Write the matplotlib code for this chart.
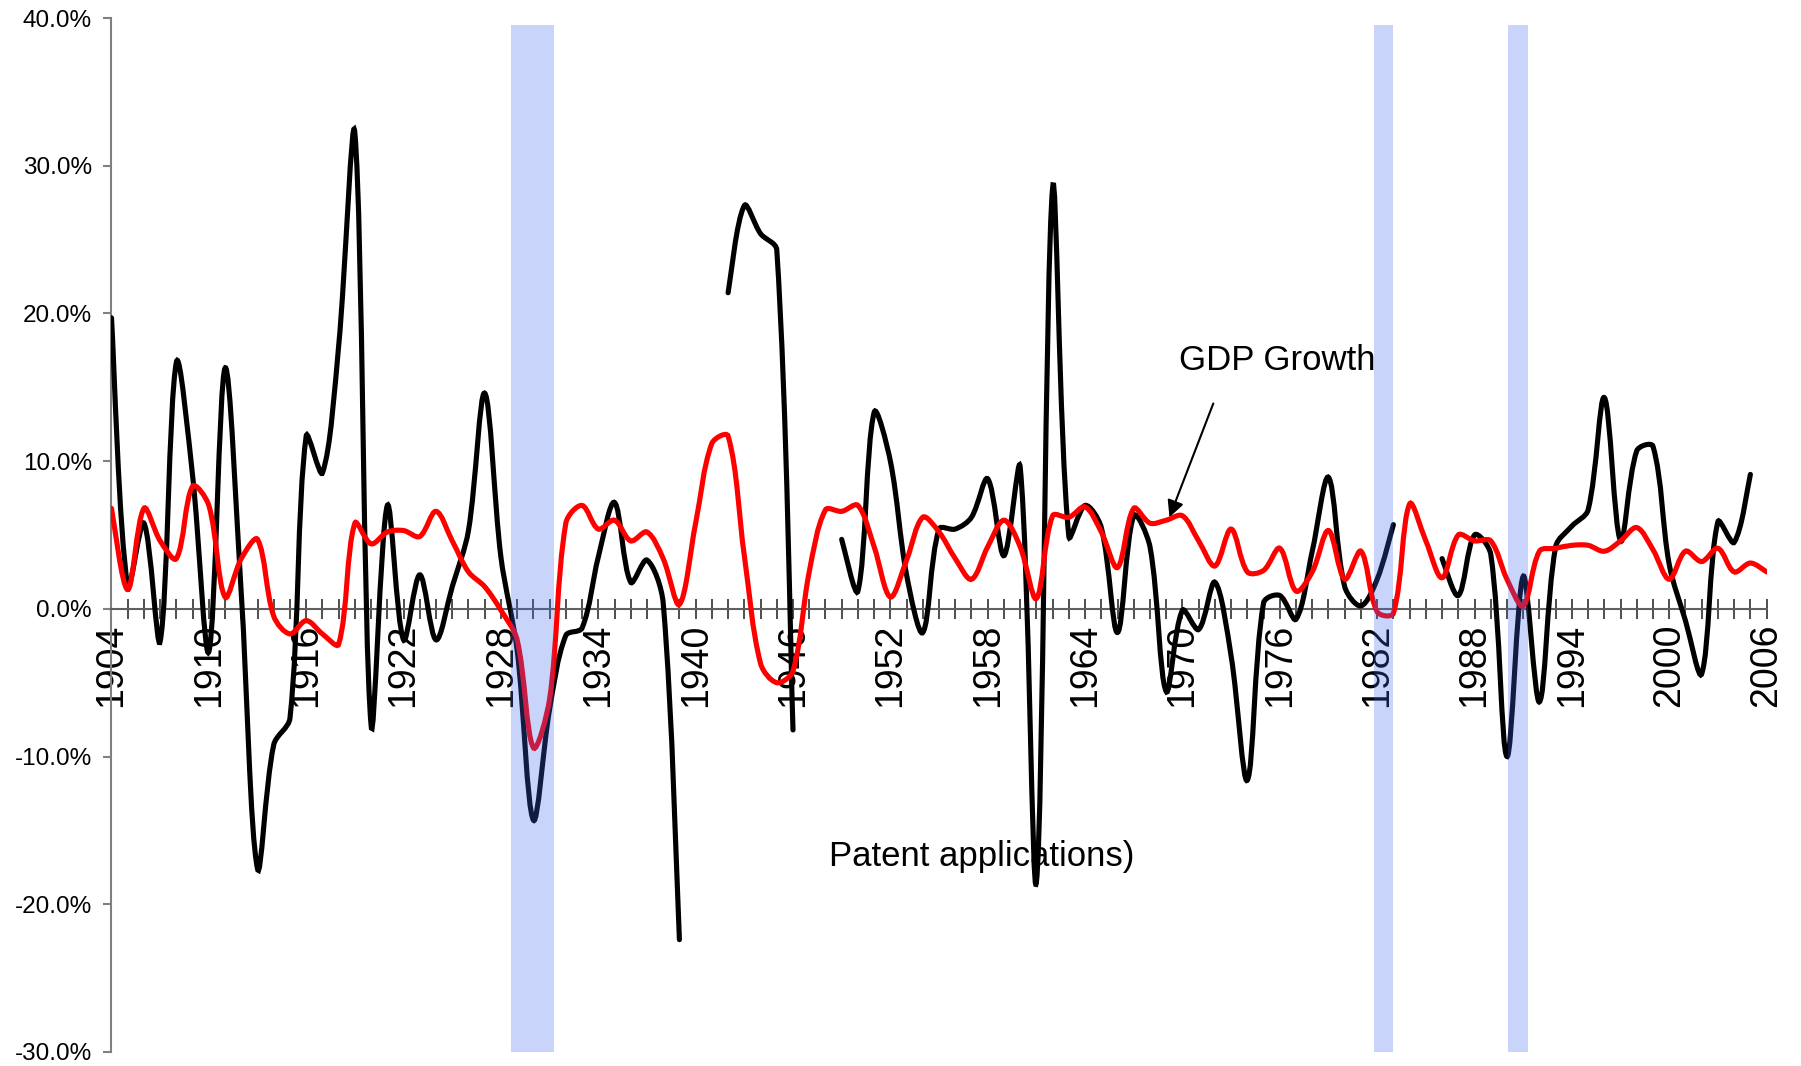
"""
* Patent applications growth vs GDP growth, with recession bands
"""
import numpy as np
import matplotlib.pyplot as plt
from matplotlib.path import Path
from matplotlib.patches import PathPatch

plt.rcParams['font.family'] = ['Liberation Sans', 'DejaVu Sans']

years = list(range(1904, 2007))
nan = np.nan

# patent applications growth (%), gaps where no data
patents = [19.7, 1.5, 5.8, -2.2, 16.7, 9.0, -2.9, 16.3, 1.0, -17.6,
           -9.2, -7.4, 11.7, 9.2, 17.8, 32.2, -7.9, 7.0, -2.1, 2.3,
           -2.1, 1.5, 5.3, 14.6, 3.5, -2.8, -14.3, -6.8, -1.8, -1.3,
           3.5, 7.2, 1.8, 3.3, 0.4, -22.4, nan, nan, 21.4, 27.3,
           25.4, 24.3, -8.2, nan, nan, 4.7, 1.2, 13.3, 10.0, 2.3,
           -1.6, 5.4, 5.4, 6.2, 8.8, 3.6, 9.6, -18.5, 28.5, 4.9,
           7.0, 5.5, -1.6, 6.3, 4.2, -5.6, -0.1, -1.4, 1.8, -3.2,
           -11.6, 0.4, 0.9, -0.7, 3.9, 8.9, 1.5, 0.2, 2.0, 5.7,
           nan, nan, 3.4, 0.9, 5.0, 3.7, -10.0, 2.2, -6.3, 4.2,
           5.6, 6.7, 14.3, 4.6, 10.7, 11.0, 3.0, -0.8, -4.4, 5.9,
           4.5, 9.1, nan]

# real GDP growth (%)
gdp = [6.8, 1.3, 6.8, 4.6, 3.4, 8.3, 7.0, 0.8, 3.4, 4.7,
       -0.5, -1.7, -0.8, -1.7, -2.4, 5.8, 4.4, 5.2, 5.3, 4.9,
       6.6, 4.6, 2.5, 1.5, -0.1, -2.1, -9.4, -6.1, 5.8, 7.0,
       5.4, 6.0, 4.6, 5.2, 3.4, 0.3, 5.8, 11.2, 11.7, 3.6,
       -3.7, -5.0, -4.2, 2.5, 6.7, 6.6, 7.0, 4.2, 0.8, 3.3,
       6.2, 5.2, 3.4, 2.0, 4.2, 6.0, 4.2, 0.7, 6.3, 6.2,
       6.9, 5.2, 2.8, 6.8, 5.8, 6.0, 6.3, 4.6, 2.9, 5.4,
       2.5, 2.6, 4.1, 1.2, 2.5, 5.3, 2.0, 3.9, -0.2, -0.3,
       7.1, 4.6, 2.1, 5.0, 4.6, 4.6, 2.0, 0.2, 3.9, 4.1,
       4.3, 4.3, 3.9, 4.6, 5.5, 4.0, 2.0, 3.9, 3.2, 4.1,
       2.5, 3.1, 2.5]

# recession periods shaded
rec_start = [1928.6, 1981.8, 1990.05]
rec_end = [1931.3, 1983.0, 1991.3]

# pixels per year / per percent point, used to weight the smoothing
SX, SY = 16.23, 14.77


def smooth_segments(xs, ys):
    # excel-like smoothed line: bezier through each point, split at gaps,
    # control arms scaled by neighbouring segment lengths (less overshoot)
    verts, codes = [], []
    xs = np.asarray(xs, float)
    ys = np.asarray(ys, float)
    ok = ~np.isnan(ys)
    i = 0
    while i < len(xs):
        if not ok[i]:
            i += 1
            continue
        j = i
        while j + 1 < len(xs) and ok[j + 1]:
            j += 1
        sx, sy = xs[i:j + 1], ys[i:j + 1]
        n = len(sx)
        seg = np.hypot(np.diff(sx) * SX, np.diff(sy) * SY)
        arm_in, arm_out = [], []
        for k in range(n):
            a = max(k - 1, 0)
            b = min(k + 1, n - 1)
            dx, dy = sx[b] - sx[a], sy[b] - sy[a]
            lp = seg[k - 1] if k > 0 else 0.0
            ln = seg[k] if k < n - 1 else 0.0
            tot = lp + ln if lp + ln > 0 else 1.0
            if k == 0 or k == n - 1:
                fin, fout = 1 / 3, 1 / 3
            else:
                fin, fout = lp / tot / 1.5, ln / tot / 1.5
            arm_in.append((dx * fin / 2, dy * fin / 2))
            arm_out.append((dx * fout / 2, dy * fout / 2))
        verts.append((sx[0], sy[0]))
        codes.append(Path.MOVETO)
        for k in range(n - 1):
            c1 = (sx[k] + arm_out[k][0], sy[k] + arm_out[k][1])
            c2 = (sx[k + 1] - arm_in[k + 1][0], sy[k + 1] - arm_in[k + 1][1])
            verts += [c1, c2, (sx[k + 1], sy[k + 1])]
            codes += [Path.CURVE4] * 3
        i = j + 1
    return Path(verts, codes)


fig = plt.figure(figsize=(18.01, 10.66), dpi=100)
ax = fig.add_axes([0.0619, 0.0132, 0.919, 0.9699])

ax.add_patch(PathPatch(smooth_segments(years, patents), fill=False,
                       edgecolor='black', lw=3.7, zorder=3, capstyle='round'))
ax.add_patch(PathPatch(smooth_segments(years, gdp), fill=False,
                       edgecolor='#ff0000', lw=3.7, zorder=4, capstyle='round'))

for s, e in zip(rec_start, rec_end):
    ax.axvspan(s, e, ymin=0, ymax=0.993, color='#3f66f2', alpha=0.28, lw=0, zorder=5)

ax.set_xlim(1904, 2006)
ax.set_ylim(-30, 40)

# axes crossing at zero
for side in ['top', 'right']:
    ax.spines[side].set_visible(False)
ax.spines['bottom'].set_position(('data', 0))
ax.spines['bottom'].set_color('#606060')
ax.spines['left'].set_color('#808080')
ax.spines['bottom'].set_linewidth(1.5)
ax.spines['left'].set_linewidth(1.5)

ax.set_yticks(range(-30, 41, 10))
ax.set_yticklabels(['%.1f%%' % v for v in range(-30, 41, 10)])
ax.tick_params(axis='y', direction='out', length=6, width=1.5, color='#808080',
               pad=8, labelsize=17.5)

ax.set_xticks(years[::6])
ax.set_xticklabels([str(y) for y in years[::6]], rotation=90, va='top')
ax.set_xticks(years, minor=True)
ax.tick_params(axis='x', which='both', direction='inout', length=15, width=1.3,
               color='#404040', labelsize=27, pad=3)

ax.text(1969.8, 16.8, 'GDP Growth', fontsize=25, va='center', ha='left')
ax.annotate('', xy=(1969.2, 6.2), xytext=(1971.9, 13.9),
            arrowprops=dict(arrowstyle='-|>', color='black', lw=1.5,
                            mutation_scale=25, shrinkA=0, shrinkB=0), zorder=6)
ax.text(1948.2, -16.8, 'Patent applications)', fontsize=25, va='center', ha='left',
        zorder=6)

plt.savefig('out.png', dpi=100)
